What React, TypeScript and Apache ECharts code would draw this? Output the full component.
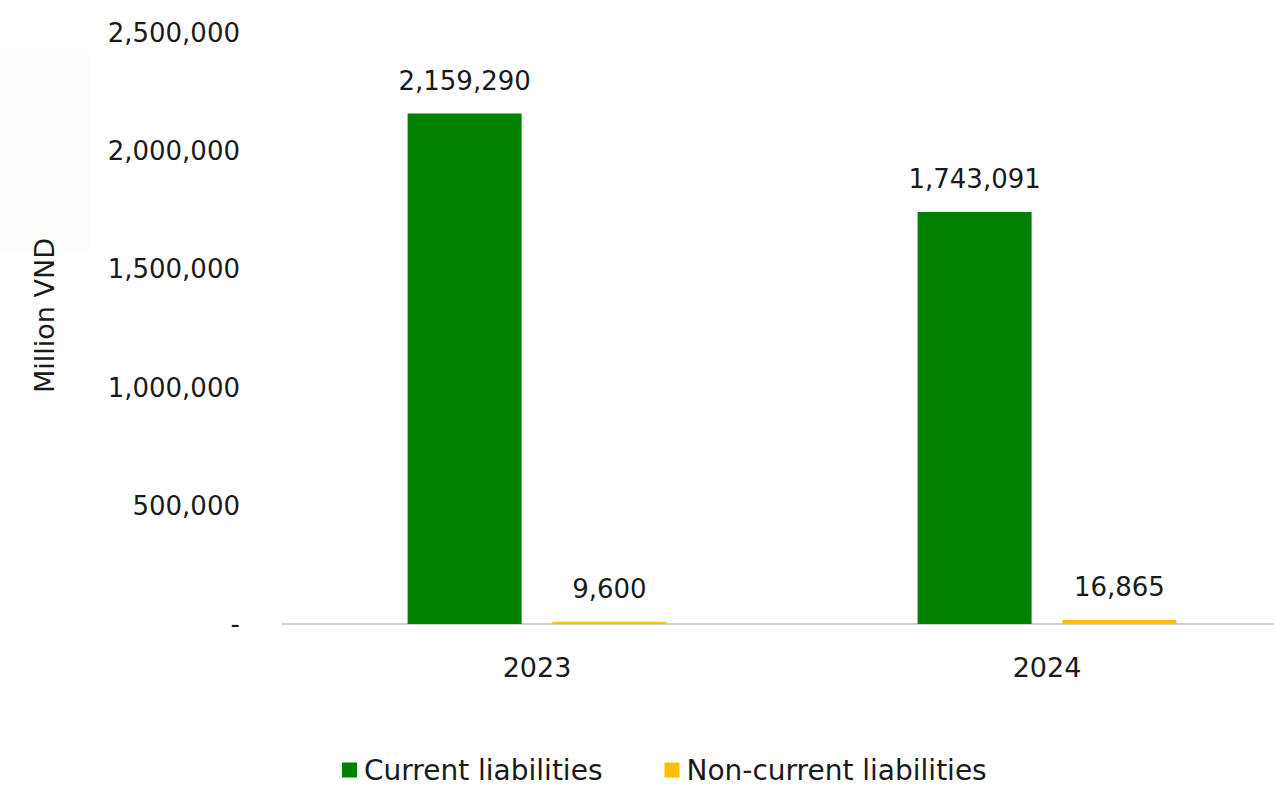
import React, { useEffect, useRef } from "react";
import * as echarts from "echarts";

const categories = ["2023", "2024"];
const currentLiabilities = [2159290, 1743091];
const nonCurrentLiabilities = [9600, 16865];
const seriesNames = ["Current liabilities", "Non-current liabilities"];

const FONT = "'DejaVu Sans', sans-serif";
const fmt = (v: number) => (v === 0 ? "-" : Math.round(v).toLocaleString("en-US"));

export default function App() {
  const ref = useRef<HTMLDivElement>(null);
  useEffect(() => {
    if (!ref.current) return;
    const chart = echarts.init(ref.current, null, { renderer: "svg" });
    chart.setOption({
      animation: false,
      backgroundColor: "#ffffff",
      textStyle: { fontFamily: FONT },
      graphic: [
        {
          type: "rect",
          left: 0,
          top: 55,
          shape: { width: 90, height: 195 },
          style: { fill: "#fdfdfc" },
          z: -1,
        },
      ],
      grid: { left: 282, right: 0, top: 33, bottom: 165, containLabel: false },
      legend: {
        bottom: 0,
        left: 337,
        itemWidth: 15,
        itemHeight: 15,
        itemGap: 62,
        icon: "rect",
        textStyle: { fontSize: 28, color: "#1a1a1a", fontFamily: FONT, padding: [0, 0, 0, 2] },
        data: seriesNames,
      },
      xAxis: {
        type: "category",
        data: categories,
        axisLine: { show: true, lineStyle: { color: "#d0d0d0", width: 2 } },
        axisTick: { show: false },
        axisLabel: { fontSize: 27, color: "#1a1a1a", margin: 30 },
      },
      yAxis: {
        type: "value",
        min: 0,
        max: 2500000,
        interval: 500000,
        name: "Million VND",
        nameLocation: "middle",
        nameGap: 224,
        nameTextStyle: { fontSize: 27, color: "#1a1a1a", padding: [0, 0, 0, 26] },
        axisLine: { show: false },
        axisTick: { show: false },
        splitLine: { show: false },
        axisLabel: { fontSize: 26, color: "#1a1a1a", margin: 42, formatter: fmt },
      },
      series: [
        {
          name: seriesNames[0],
          type: "bar",
          data: currentLiabilities,
          barWidth: 114,
          barGap: "27%",
          itemStyle: { color: "#008000" },
          label: {
            show: true,
            position: "top",
            distance: 20,
            fontSize: 26,
            color: "#1a1a1a",
            formatter: (p: any) => fmt(p.value),
          },
        },
        {
          name: seriesNames[1],
          type: "bar",
          data: nonCurrentLiabilities,
          barWidth: 114,
          itemStyle: { color: "#FFC000" },
          label: {
            show: true,
            position: "top",
            distance: 20,
            fontSize: 26,
            color: "#1a1a1a",
            formatter: (p: any) => fmt(p.value),
          },
        },
      ],
    });
    return () => chart.dispose();
  }, []);
  return (
    <div style={{ position: "fixed", left: 0, top: 0, width: 1274, height: 789, overflow: "hidden" }}>
      <div ref={ref} style={{ width: 1302, height: 789 }} />
    </div>
  );
}
